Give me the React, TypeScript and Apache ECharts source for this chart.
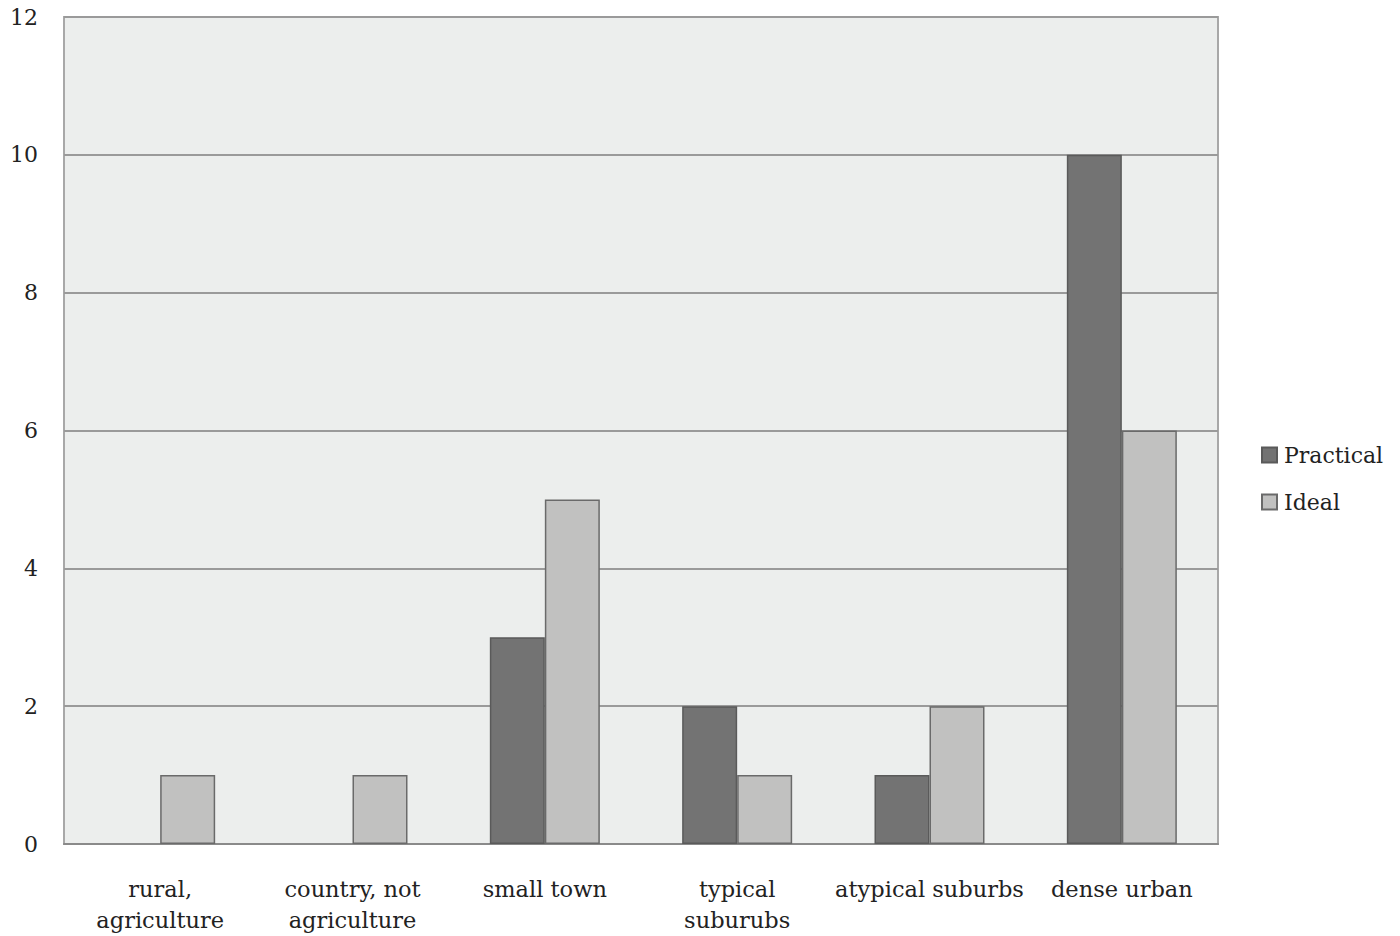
import React, { useEffect, useRef } from "react";
import * as echarts from "echarts";

const categories = [
  "rural,\nagriculture",
  "country, not\nagriculture",
  "small town",
  "typical\nsuburubs",
  "atypical suburbs",
  "dense urban",
];
const practical = [0, 0, 3, 2, 1, 10];
const ideal = [1, 1, 5, 1, 2, 6];
const seriesNames = ["Practical", "Ideal"];

const FONT = "DejaVu Serif";

const toItems = (arr: number[]) =>
  arr.map((v) => (v === 0 ? { value: v, itemStyle: { borderWidth: 0 } } : v));

export default function App() {
  const ref = useRef<HTMLDivElement>(null);
  useEffect(() => {
    if (!ref.current) return;
    const chart = echarts.init(ref.current, undefined, { renderer: "svg" });
    chart.setOption({
      animation: false,
      backgroundColor: "#ffffff",
      textStyle: { fontFamily: FONT },
      grid: {
        left: 64,
        right: 182,
        top: 17,
        bottom: 92,
        show: true,
        backgroundColor: "#eceeed",
        borderColor: "#a8a8a8",
        borderWidth: 2,
      },
      legend: {
        orient: "vertical",
        left: 1256,
        top: 439,
        itemWidth: 15,
        itemHeight: 15,
        itemGap: 25,
        icon: "rect",
        textStyle: { fontFamily: FONT, fontSize: 22, color: "#222", padding: [0, 0, 0, 2] },
        data: seriesNames,
      },
      xAxis: {
        type: "category",
        data: categories,
        axisLine: { show: true, lineStyle: { color: "#8a8a8a", width: 2 } },
        axisTick: { show: false },
        axisLabel: {
          interval: 0,
          margin: 29,
          fontFamily: FONT,
          fontSize: 22.5,
          lineHeight: 31,
          color: "#222",
        },
      },
      yAxis: {
        type: "value",
        min: 0,
        max: 12,
        interval: 2,
        axisLine: { show: false },
        axisTick: { show: false },
        splitLine: { lineStyle: { color: "#9a9a9a", width: 2 } },
        axisLabel: { margin: 26, fontFamily: FONT, fontSize: 22, color: "#222" },
      },
      series: [
        {
          name: seriesNames[0],
          type: "bar",
          data: toItems(practical),
          barWidth: 55,
          barGap: "0%",
          itemStyle: { color: "#737373", borderColor: "#5a5a5a", borderWidth: 1.5 },
        },
        {
          name: seriesNames[1],
          type: "bar",
          data: toItems(ideal),
          barWidth: 55,
          barGap: "0%",
          itemStyle: { color: "#c1c1c0", borderColor: "#6a6a6a", borderWidth: 1.5 },
        },
      ],
    });
    return () => chart.dispose();
  }, []);
  return (
    <div
      ref={ref}
      style={{ position: "fixed", left: 0, top: 0, width: 1400, height: 936 }}
    />
  );
}
